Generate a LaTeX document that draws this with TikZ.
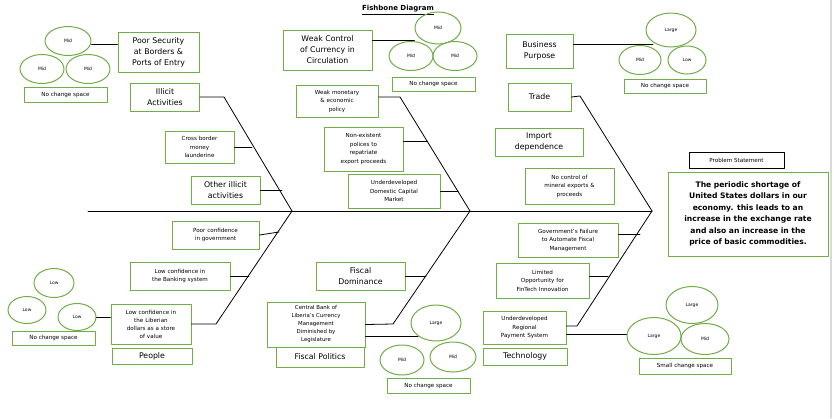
\documentclass[tikz,border=0pt]{standalone}
\usepackage{fontspec}
\setmainfont{DejaVu Sans}
\usetikzlibrary{positioning,calc,shapes.geometric}
\definecolor{grn}{HTML}{70AD47}
\begin{document}
\begin{tikzpicture}[
				x=1pt,y=-1pt,
				line cap=round,line join=round,
				gbox/.style={draw=grn, line width=1pt, align=center, inner sep=1pt, font=\fontsize{5.6}{8.5}\selectfont},
				bigbox/.style={gbox, font=\fontsize{7.8}{11}\selectfont},
				oval/.style={ellipse, draw=grn, line width=1pt, inner sep=0pt, font=\fontsize{4.5}{5}\selectfont},
				bone/.style={black, line width=0.8pt}
				]
				\useasboundingbox (0,0) rectangle (834,418);
				\draw[gray!30, line width=1.5pt] (831,0) -- (831,418);
				
				%----- title
				\node[font=\fontsize{7}{8}\selectfont\bfseries] (title) at (398,10) {\underline{Fishbone Diagram}};
				
				%----- spine and joints
				\coordinate (tail) at (88,211);
				\coordinate (head) at (652,211);
				\coordinate (jA) at (292,211);
				\coordinate (jB) at (470,211);
				\draw[bone] (tail) -- (head);
				
				%----- problem statement
				\node[draw, line width=0.8pt, minimum width=95, minimum height=16, inner sep=0pt, font=\fontsize{5.6}{6}\selectfont] (ps) at (736.5,160) {Problem Statement};
				\node[bigbox, font=\fontsize{7.6}{11.5}\selectfont\bfseries, minimum width=160, minimum height=84, text width=128] (prob) at (748,214)
				{The periodic shortage of United States dollars in our economy. this leads to an increase in the exchange rate and also an increase in the price of basic commodities.};
				
				%----- category boxes
				\node[bigbox, minimum width=69, minimum height=28] (ill) at (165,97) {Illicit\\Activities};
				\node[bigbox, minimum width=80, minimum height=16] (ppl) at (152,356) {People};
				\node[bigbox, minimum width=88, minimum height=20] (fpol) at (320,357) {Fiscal Politics};
				\node[bigbox, minimum width=89, minimum height=28] (fdom) at (360.5,276) {Fiscal\\Dominance};
				\node[bigbox, minimum width=63, minimum height=28] (trade) at (539.5,97) {Trade};
				\node[bigbox, minimum width=84, minimum height=17] (tech) at (525,356.5) {Technology};
				\node[bigbox, minimum width=88, minimum height=28] (imp) at (539,142) {Import\\dependence};
				\node[bigbox, minimum width=69, minimum height=28] (oth) at (225.5,190) {Other illicit\\activities};
				
				%----- cause boxes
				\node[gbox, minimum width=69, minimum height=32, text width=66] (cross) at (199.5,147) {Cross border\\money\\launderine};
				\node[gbox, minimum width=87, minimum height=28, text width=84] (pcg) at (215.5,235) {Poor confidence\\in government};
				\node[gbox, minimum width=100, minimum height=28, text width=96] (lcb) at (180,276) {Low confidence in\\the Banking system};
				\node[gbox, minimum width=80, minimum height=40, text width=76, font=\fontsize{5.6}{8}\selectfont] (lcl) at (151,324) {Low confidence in\\the Liberian\\dollars as a store\\of value};
				\node[gbox, minimum width=82, minimum height=32, text width=78] (wmp) at (337,101) {Weak monetary\\\& economic\\policy};
				\node[gbox, minimum width=79, minimum height=44, text width=72, font=\fontsize{5.6}{8.5}\selectfont] (nonx) at (363.5,149) {Non-existent\\polices to\\repatriate\\export proceeds};
				\node[gbox, minimum width=92, minimum height=34, text width=88] (udcm) at (394,191) {Underdeveloped\\Domestic Capital\\Market};
				\node[gbox, minimum width=98, minimum height=45, text width=94, font=\fontsize{5.4}{8}\selectfont] (cbl) at (316,324.5) {Central Bank of\\Liberia's Currency\\Management\\Diminished by\\Legislature};
				\node[gbox, minimum width=89, minimum height=36, text width=84] (nocm) at (569.5,186) {No control of\\mineral exports \&\\proceeds};
				\node[gbox, minimum width=100, minimum height=34, text width=96] (gov) at (568,240) {Government's Failure\\to Automate Fiscal\\Management};
				\node[gbox, minimum width=93, minimum height=35, text width=90] (lim) at (542.5,280.5) {Limited\\Opportunity for\\FinTech Innovation};
				\node[gbox, minimum width=83, minimum height=33, text width=80] (urps) at (524.5,327.5) {Underdeveloped\\Regional\\Payment System};
				
				%----- sub-cause boxes (top)
				\node[bigbox, minimum width=81, minimum height=40] (sec) at (158.5,52) {Poor Security\\at Borders \&\\Ports of Entry};
				\node[bigbox, minimum width=89, minimum height=40] (wcc) at (327.5,50) {Weak Control\\of Currency in\\Circulation};
				\node[bigbox, minimum width=67, minimum height=34] (bus) at (539.5,51) {Business\\Purpose};
				
				%----- ovals and space boxes
				\node[oval, minimum width=46, minimum height=29] (o1) at (68,41) {Mid};
				\node[oval, minimum width=44, minimum height=29] (o2) at (42,69) {Mid};
				\node[oval, minimum width=44, minimum height=29] (o3) at (88,69) {Mid};
				\node[gbox, minimum width=83, minimum height=15] (s1) at (65.5,94.5) {No change space};
				
				\node[oval, minimum width=46, minimum height=32] (o4) at (438,28) {Mid};
				\node[oval, minimum width=44, minimum height=29] (o5) at (411,56) {Mid};
				\node[oval, minimum width=44, minimum height=29] (o6) at (455,56) {Mid};
				\node[gbox, minimum width=83, minimum height=14] (s2) at (433.5,84) {No change space};
				
				\node[oval, minimum width=50, minimum height=34] (o7) at (671,30) {Large};
				\node[oval, minimum width=42, minimum height=29] (o8) at (640,60) {Mid};
				\node[oval, minimum width=38, minimum height=28] (o9) at (687,60) {Low};
				\node[gbox, minimum width=82, minimum height=14] (s3) at (665,86) {No change space};
				
				\node[oval, minimum width=40, minimum height=29] (o10) at (54,283) {Low};
				\node[oval, minimum width=38, minimum height=27] (o11) at (27,310) {Low};
				\node[oval, minimum width=38, minimum height=27] (o12) at (77,317) {Low};
				\node[gbox, minimum width=83, minimum height=14] (s4) at (53.5,338) {No change space};
				
				\node[oval, minimum width=50, minimum height=36] (o13) at (436,323) {Large};
				\node[oval, minimum width=44, minimum height=30] (o14) at (402,360) {Mid};
				\node[oval, minimum width=46, minimum height=30] (o15) at (453,357) {Mid};
				\node[gbox, minimum width=83, minimum height=15] (s5) at (428.5,385.5) {No change space};
				
				\node[oval, minimum width=52, minimum height=37] (o16) at (692,305) {Large};
				\node[oval, minimum width=54, minimum height=37] (o17) at (654,336) {Large};
				\node[oval, minimum width=48, minimum height=31] (o18) at (705,339) {Mid};
				\node[gbox, minimum width=92, minimum height=16] (s6) at (685,366) {Small change space};
				
				%----- bones
				\draw[bone] (ill.east) -- (224,97) -- (jA);
				\draw[bone] (jA) -- (216,324) -- (lcl.east);
				\draw[bone] (wmp.east |- 0,97) -- (400,97) -- (jB);
				\draw[bone] (jB) -- (393,324) -- (cbl.east);
				\draw[bone] (trade.east) -- (580,96) -- (head);
				\draw[bone] (head) -- (577,326) -- (urps.east |- 0,326);
				
				%----- branch lines
				\draw[bone] (cross.east) -- (252,147);
				\draw[bone] (oth.east) -- (282,190);
				\draw[bone] (pcg.east) -- (279,232);
				\draw[bone] (lcb.east) -- (249,276);
				\draw[bone] (nonx.east |- 0,141) -- (427,141);
				\draw[bone] (udcm.east) -- (458,191);
				\draw[bone] (fdom.east) -- (426,276);
				\draw[bone] (gov.east |- 0,234) -- (640,234);
				\draw[bone] (lim.east |- 0,276) -- (608,276);
				\draw[bone] (sec.west |- 0,44) -- (o1.east |- 0,44);
				\draw[bone] (wcc.east |- 0,40) -- (o4.west |- 0,40);
				\draw[bone] (bus.east |- 0,44) -- (o7.south west |- 0,44);
				\draw[bone] (lcl.west |- 0,317) -- (o12.east);
				\draw[bone] (cbl.east |- 0,336) -- (o13.south west |- 0,336);
				\draw[bone] (urps.east |- 0,334) -- (o17.west |- 0,334);
			\end{tikzpicture}
\end{document}
